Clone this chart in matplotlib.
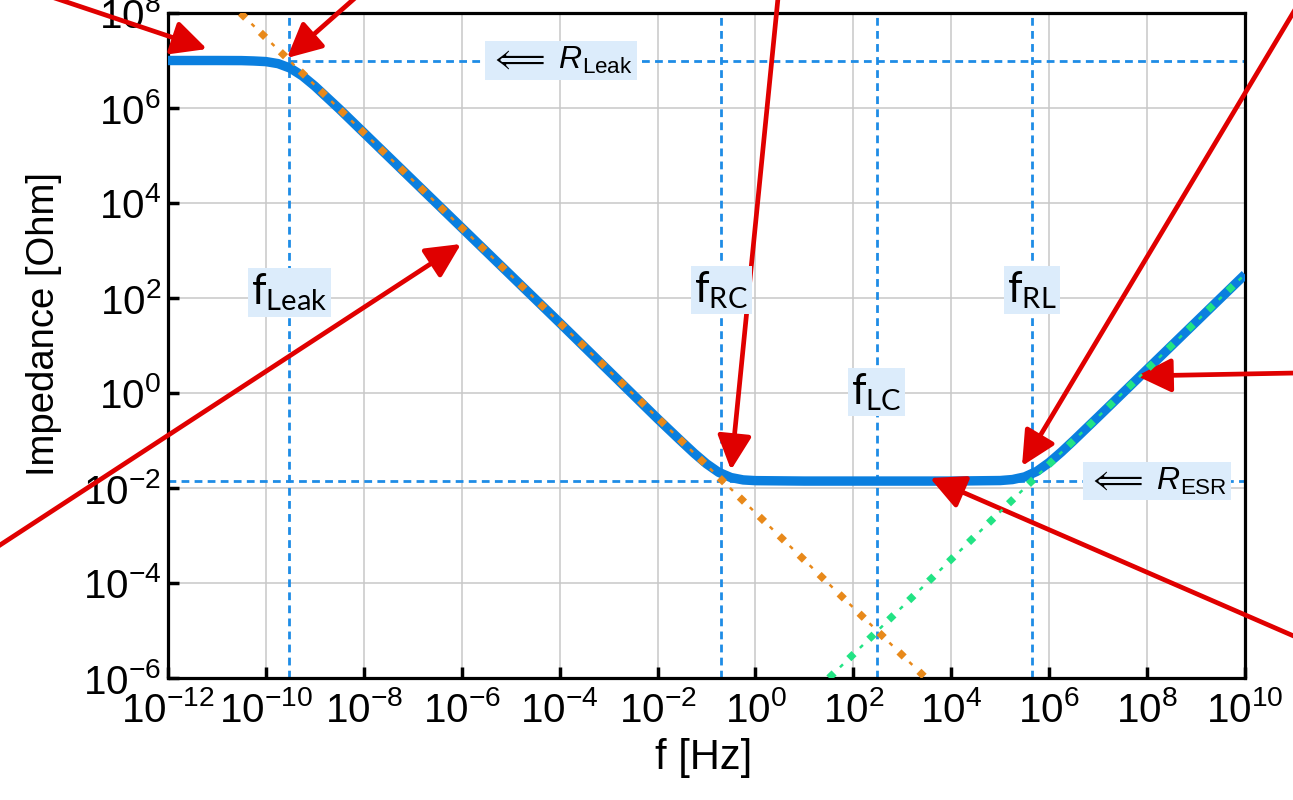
import numpy as np
import matplotlib
matplotlib.use('Agg')
import matplotlib.pyplot as plt
from matplotlib.ticker import NullLocator, LogFormatterMathtext

plt.rcParams['font.family'] = ['Liberation Sans', 'DejaVu Sans']
plt.rcParams['mathtext.fontset'] = 'custom'
plt.rcParams['mathtext.rm'] = 'Liberation Sans'
plt.rcParams['mathtext.it'] = 'Liberation Sans:italic'
plt.rcParams['mathtext.sf'] = 'Lato'

# total impedance |Z| (log10 f, log10 Z)
log_f_total = [-12, -11, -10.5, -10.25, -10, -9.75, -9.5, -9.25, -9, -8.75, -8.5, -8,
               -6, -4, -2, -1.5, -1.25, -1, -0.75, -0.5, -0.25, 0, 1, 2, 3, 4,
               5, 5.25, 5.5, 5.75, 6, 6.25, 6.5, 7, 8, 9, 10]
log_z_total = [7.0, 7.0, 6.998, 6.99, 6.977, 6.934, 6.838, 6.673, 6.46, 6.22, 5.98, 5.48,
               3.48, 1.48, -0.54, -1.03, -1.27, -1.49, -1.67, -1.78, -1.83, -1.845, -1.854, -1.854, -1.854, -1.854,
               -1.843, -1.822, -1.766, -1.648, -1.464, -1.241, -1.0, -0.504, 0.496, 1.496, 2.496]

# capacitive asymptote (orange) and inductive asymptote (green)
log_f_cap = [-10.52, 3.48]
log_z_cap = [8.0, -6.0]
log_f_ind = [1.5, 10.0]
log_z_ind = [-6.0, 2.5]

# reference levels / corner frequencies
r_leak = 1e7
r_esr = 1.4e-2
f_leak = 3e-10
f_rc = 0.2
f_lc = 3e2
f_rl = 4.5e5

x_ticks = [10.0 ** k for k in range(-12, 11, 2)]
y_ticks = [10.0 ** k for k in range(-6, 9, 2)]

blue = '#0a7fdf'
dash_blue = '#1e8ce6'
orange = '#e8891a'
green = '#22e384'
red = '#e00000'
box_bg = '#dcecfb'

fig = plt.figure(figsize=(12.93, 8), dpi=100)
ax = fig.add_axes([0.1299, 0.1525, 0.833, 0.83125])
ax.set_xscale('log')
ax.set_yscale('log')
ax.set_xlim(1e-12, 1e10)
ax.set_ylim(1e-6, 1e8)

ax.plot(np.power(10.0, log_f_total), np.power(10.0, log_z_total), color=blue, lw=6.8,
        solid_capstyle='butt', zorder=3)


def dot_dash(fx, zy, col):
    # square dots (thick) with thin dashes between them, period ~20pt
    fx = np.power(10.0, fx)
    zy = np.power(10.0, zy)
    ax.plot(fx, zy, color=col, lw=5.2, ls=(0, (1.0, 2.85)), dash_capstyle='butt', zorder=4)
    ax.plot(fx, zy, color=col, lw=1.8, ls=(4.94, (1.67, 9.44)), dash_capstyle='butt', zorder=4)


dot_dash(log_f_cap, log_z_cap, orange)
dot_dash(log_f_ind, log_z_ind, green)

dash = (0, (2.8, 1.9))
ax.plot([f_leak, 1e10], [r_leak, r_leak], color=dash_blue, lw=2.0, ls=dash, zorder=2)
ax.axhline(r_esr, color=dash_blue, lw=2.0, ls=dash, zorder=2)
for fx in [f_leak, f_rc, f_lc, f_rl]:
    ax.axvline(fx, color=dash_blue, lw=2.0, ls=dash, zorder=2)

bb = dict(boxstyle='square,pad=0.08', fc=box_bg, ec='none')
ax.text(f_leak, 10 ** 2.12, r'$\mathsf{f}_{\mathsf{Leak}}$', fontsize=30, ha='center', va='center', bbox=bb, zorder=5)
ax.text(f_rc, 10 ** 2.17, r'$\mathsf{f}_{\mathsf{RC}}$', fontsize=30, ha='center', va='center', bbox=bb, zorder=5)
ax.text(f_lc, 10 ** 0.02, r'$\mathsf{f}_{\mathsf{LC}}$', fontsize=30, ha='center', va='center', bbox=bb, zorder=5)
ax.text(f_rl, 10 ** 2.17, r'$\mathsf{f}_{\mathsf{RL}}$', fontsize=30, ha='center', va='center', bbox=bb, zorder=5)
bb2 = dict(boxstyle='square,pad=0.12', fc=box_bg, ec='none')
ax.text(10 ** -3.97, r_leak, r'$\Longleftarrow\ R_{\mathrm{Leak}}$', fontsize=23, ha='center', va='center', bbox=bb2, zorder=5)
ax.text(10 ** 8.2, r_esr, r'$\Longleftarrow\ R_{\mathrm{ESR}}$', fontsize=23, ha='center', va='center', bbox=bb2, zorder=5)

ax.set_xticks(x_ticks)
ax.set_yticks(y_ticks)
ax.xaxis.set_minor_locator(NullLocator())
ax.yaxis.set_minor_locator(NullLocator())
ax.xaxis.set_major_formatter(LogFormatterMathtext())
ax.yaxis.set_major_formatter(LogFormatterMathtext())
ax.tick_params(direction='in', length=8, width=2.5, labelsize=29)
ax.tick_params(axis='x', pad=9)
ax.tick_params(axis='y', pad=5)
ax.grid(True, color='#c8c8c8', lw=1.1, zorder=0)
ax.set_axisbelow(True)
for s in ax.spines.values():
    s.set_linewidth(2.3)

ax.set_xlabel('f [Hz]', fontsize=30)
ax.xaxis.label.set_va('center')
ax.xaxis.set_label_coords(0.497, -0.121)
ax.set_ylabel('Impedance [Ohm]', fontsize=27.5)
ax.yaxis.label.set_va('center')
ax.yaxis.set_label_coords(-0.115, 0.532)

# red annotation arrows (figure pixel coords, origin top-left as in the picture)
arrows = [((-5, -22), (207, 49)),
          ((355, -2), (287, 58)),
          ((778, -2), (731, 470)),
          ((1296, 8), (1022, 466)),
          ((1296, 373), (1137, 376)),
          ((1296, 637), (930, 478)),
          ((-3, 547), (461, 244))]
H = 800
for (x0, y0), (x1, y1) in arrows:
    ax.annotate('', xy=(x1, H - y1), xycoords='figure pixels',
                xytext=(x0, H - y0), textcoords='figure pixels',
                annotation_clip=False,
                arrowprops=dict(arrowstyle='-|>,head_length=1.05,head_width=0.52',
                                mutation_scale=20, color=red, lw=3.4,
                                shrinkA=0, shrinkB=0))

fig.savefig('out.png', dpi=100)
